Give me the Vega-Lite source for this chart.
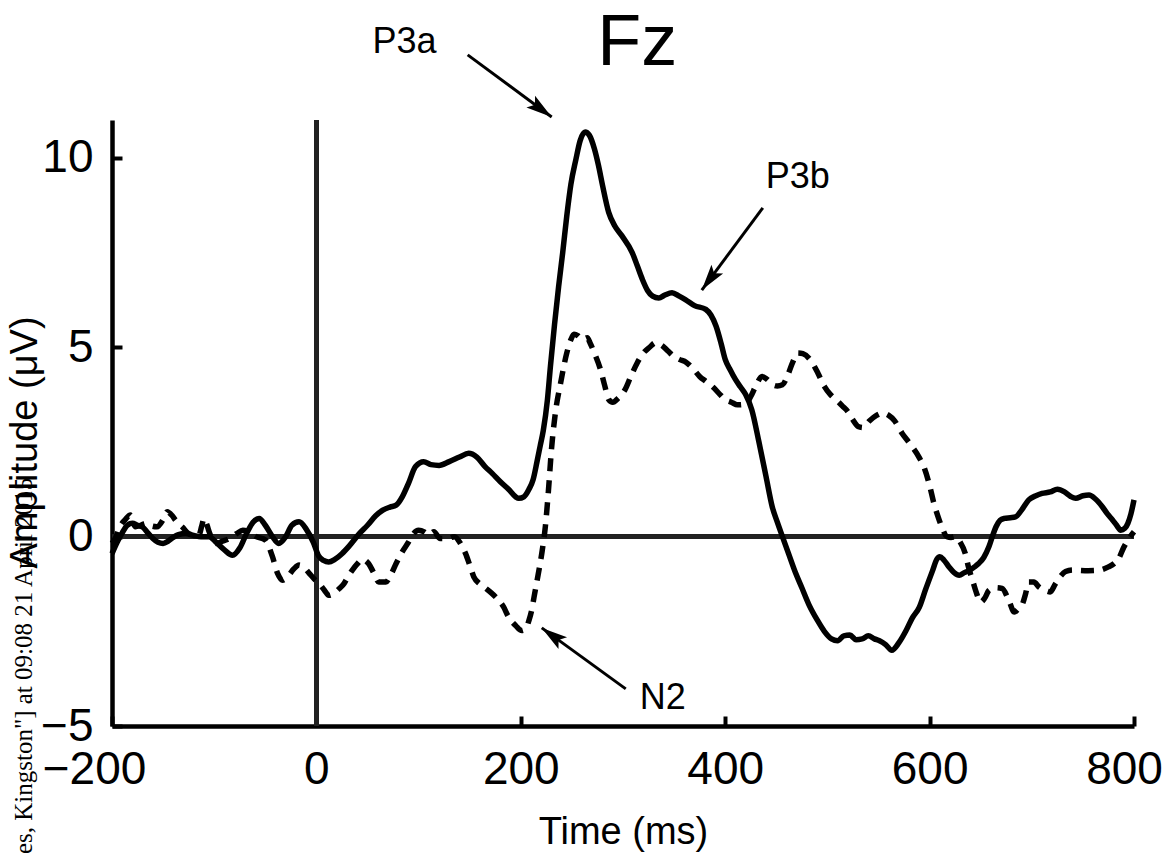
{
  "$schema": "https://vega.github.io/schema/vega-lite/v6.json",
  "width": 1022,
  "height": 606,
  "autosize": {"type": "none"},
  "padding": {"left": 112, "top": 120, "right": 36, "bottom": 128},
  "background": "white",
  "config": {
    "view": {"stroke": null},
    "font": "Liberation Sans",
    "axis": {
      "grid": false,
      "domainColor": "black",
      "domainWidth": 4.5,
      "tickColor": "black",
      "tickWidth": 4,
      "tickSize": -10,
      "labelFont": "Liberation Sans",
      "labelFontSize": 46,
      "labelColor": "black",
      "labelFlush": false,
      "labelOverlap": false,
      "titleFont": "Liberation Sans",
      "titleFontSize": 38,
      "titleFontWeight": "normal",
      "titleColor": "black"
    }
  },
  "datasets": {
    "solid": [
      {"t": -200, "v": -0.45}, {"t": -195, "v": -0.15}, {"t": -190, "v": 0.1}, {"t": -185, "v": 0.3},
      {"t": -180, "v": 0.35}, {"t": -175, "v": 0.3}, {"t": -170, "v": 0.25}, {"t": -165, "v": 0.1},
      {"t": -160, "v": -0.05}, {"t": -155, "v": -0.15}, {"t": -150, "v": -0.18}, {"t": -145, "v": -0.12},
      {"t": -140, "v": -0.02}, {"t": -135, "v": 0.05}, {"t": -128, "v": 0.08}, {"t": -120, "v": 0.03},
      {"t": -113, "v": 0.0}, {"t": -105, "v": 0.0}, {"t": -98, "v": -0.15}, {"t": -90, "v": -0.35},
      {"t": -82, "v": -0.49}, {"t": -75, "v": -0.3}, {"t": -68, "v": 0.1}, {"t": -62, "v": 0.38},
      {"t": -56, "v": 0.48}, {"t": -50, "v": 0.3}, {"t": -43, "v": 0.0}, {"t": -37, "v": -0.18},
      {"t": -30, "v": 0.0}, {"t": -24, "v": 0.3}, {"t": -17, "v": 0.39}, {"t": -10, "v": 0.2},
      {"t": -3, "v": -0.15}, {"t": 2, "v": -0.5}, {"t": 7, "v": -0.63}, {"t": 12, "v": -0.67},
      {"t": 18, "v": -0.6}, {"t": 25, "v": -0.45}, {"t": 32, "v": -0.25}, {"t": 42, "v": 0.08},
      {"t": 50, "v": 0.3}, {"t": 58, "v": 0.55}, {"t": 65, "v": 0.7}, {"t": 72, "v": 0.78},
      {"t": 78, "v": 0.83}, {"t": 84, "v": 1.05}, {"t": 90, "v": 1.4}, {"t": 97, "v": 1.85},
      {"t": 105, "v": 1.98}, {"t": 112, "v": 1.9}, {"t": 120, "v": 1.88}, {"t": 130, "v": 1.98},
      {"t": 140, "v": 2.1}, {"t": 149, "v": 2.2}, {"t": 157, "v": 2.1}, {"t": 165, "v": 1.85},
      {"t": 172, "v": 1.67}, {"t": 180, "v": 1.45}, {"t": 188, "v": 1.25}, {"t": 195, "v": 1.05},
      {"t": 198, "v": 1.01}, {"t": 203, "v": 1.05}, {"t": 208, "v": 1.25}, {"t": 212, "v": 1.5},
      {"t": 216, "v": 2.0}, {"t": 219, "v": 2.4}, {"t": 222, "v": 2.8}, {"t": 226, "v": 3.6},
      {"t": 229, "v": 4.5}, {"t": 233, "v": 5.6}, {"t": 237, "v": 6.6}, {"t": 241, "v": 7.5},
      {"t": 245, "v": 8.47}, {"t": 249, "v": 9.3}, {"t": 254, "v": 9.97}, {"t": 258, "v": 10.45},
      {"t": 263, "v": 10.68}, {"t": 267, "v": 10.6}, {"t": 272, "v": 10.24}, {"t": 276, "v": 9.8},
      {"t": 280, "v": 9.27}, {"t": 286, "v": 8.56}, {"t": 292, "v": 8.2}, {"t": 299, "v": 7.94},
      {"t": 309, "v": 7.5}, {"t": 314, "v": 7.15}, {"t": 319, "v": 6.79}, {"t": 324, "v": 6.5},
      {"t": 329, "v": 6.35}, {"t": 335, "v": 6.3}, {"t": 341, "v": 6.38}, {"t": 348, "v": 6.44},
      {"t": 355, "v": 6.35}, {"t": 361, "v": 6.26}, {"t": 370, "v": 6.1}, {"t": 381, "v": 6.0},
      {"t": 386, "v": 5.85}, {"t": 391, "v": 5.56}, {"t": 396, "v": 5.1}, {"t": 400, "v": 4.68},
      {"t": 405, "v": 4.4}, {"t": 410, "v": 4.15}, {"t": 415, "v": 3.95}, {"t": 420, "v": 3.75},
      {"t": 426, "v": 3.35}, {"t": 433, "v": 2.5}, {"t": 440, "v": 1.58}, {"t": 446, "v": 0.79},
      {"t": 451, "v": 0.38}, {"t": 456, "v": 0.0}, {"t": 462, "v": -0.45}, {"t": 469, "v": -0.97},
      {"t": 475, "v": -1.35}, {"t": 482, "v": -1.8}, {"t": 490, "v": -2.2}, {"t": 497, "v": -2.5},
      {"t": 504, "v": -2.7}, {"t": 510, "v": -2.75}, {"t": 516, "v": -2.62}, {"t": 522, "v": -2.6},
      {"t": 528, "v": -2.72}, {"t": 534, "v": -2.7}, {"t": 540, "v": -2.62}, {"t": 546, "v": -2.7},
      {"t": 551, "v": -2.75}, {"t": 557, "v": -2.85}, {"t": 563, "v": -3.0}, {"t": 570, "v": -2.8},
      {"t": 577, "v": -2.48}, {"t": 583, "v": -2.15}, {"t": 590, "v": -1.86}, {"t": 596, "v": -1.4},
      {"t": 603, "v": -0.89}, {"t": 607, "v": -0.6}, {"t": 610, "v": -0.53}, {"t": 614, "v": -0.62},
      {"t": 619, "v": -0.8}, {"t": 624, "v": -0.95}, {"t": 629, "v": -1.02}, {"t": 634, "v": -0.95},
      {"t": 639, "v": -0.89}, {"t": 644, "v": -0.8}, {"t": 648, "v": -0.71}, {"t": 653, "v": -0.55},
      {"t": 658, "v": -0.27}, {"t": 662, "v": 0.05}, {"t": 665, "v": 0.26}, {"t": 669, "v": 0.43},
      {"t": 673, "v": 0.48}, {"t": 679, "v": 0.5}, {"t": 684, "v": 0.52}, {"t": 690, "v": 0.7},
      {"t": 697, "v": 0.97}, {"t": 704, "v": 1.08}, {"t": 710, "v": 1.14}, {"t": 718, "v": 1.18},
      {"t": 725, "v": 1.25}, {"t": 732, "v": 1.18}, {"t": 738, "v": 1.06}, {"t": 743, "v": 1.01},
      {"t": 750, "v": 1.08}, {"t": 756, "v": 1.1}, {"t": 762, "v": 1.0}, {"t": 769, "v": 0.79},
      {"t": 774, "v": 0.6}, {"t": 779, "v": 0.44}, {"t": 783, "v": 0.3}, {"t": 787, "v": 0.17},
      {"t": 791, "v": 0.22}, {"t": 794, "v": 0.35}, {"t": 797, "v": 0.6}, {"t": 800, "v": 0.97}
    ],
    "dashed": [
      {"t": -200, "v": -0.18}, {"t": -196, "v": 0.0}, {"t": -193, "v": 0.22}, {"t": -187, "v": 0.45},
      {"t": -182, "v": 0.57}, {"t": -177, "v": 0.26}, {"t": -172, "v": 0.3}, {"t": -167, "v": 0.35},
      {"t": -161, "v": 0.28}, {"t": -156, "v": 0.26}, {"t": -150, "v": 0.45}, {"t": -146, "v": 0.66},
      {"t": -141, "v": 0.55}, {"t": -138, "v": 0.44}, {"t": -131, "v": 0.25}, {"t": -125, "v": 0.08},
      {"t": -119, "v": 0.04}, {"t": -115, "v": 0.04}, {"t": -112, "v": 0.3}, {"t": -110, "v": 0.48},
      {"t": -107, "v": 0.3}, {"t": -105, "v": 0.13}, {"t": -98, "v": -0.18}, {"t": -92, "v": -0.12},
      {"t": -85, "v": -0.05}, {"t": -78, "v": 0.08}, {"t": -72, "v": 0.17}, {"t": -66, "v": 0.12},
      {"t": -59, "v": 0.0}, {"t": -50, "v": -0.09}, {"t": -43, "v": -0.53}, {"t": -38, "v": -0.97},
      {"t": -33, "v": -1.15}, {"t": -28, "v": -1.05}, {"t": -22, "v": -0.85}, {"t": -17, "v": -0.75},
      {"t": -12, "v": -0.82}, {"t": -7, "v": -0.97}, {"t": -2, "v": -1.12}, {"t": 3, "v": -1.25},
      {"t": 8, "v": -1.42}, {"t": 12, "v": -1.55}, {"t": 17, "v": -1.5}, {"t": 22, "v": -1.38},
      {"t": 27, "v": -1.24}, {"t": 31, "v": -1.05}, {"t": 35, "v": -0.89}, {"t": 40, "v": -0.72},
      {"t": 45, "v": -0.6}, {"t": 51, "v": -0.71}, {"t": 56, "v": -0.95}, {"t": 61, "v": -1.2},
      {"t": 68, "v": -1.2}, {"t": 73, "v": -1.0}, {"t": 78, "v": -0.71}, {"t": 84, "v": -0.4},
      {"t": 90, "v": -0.15}, {"t": 95, "v": 0.08}, {"t": 100, "v": 0.17}, {"t": 106, "v": 0.12},
      {"t": 110, "v": 0.05}, {"t": 115, "v": 0.13}, {"t": 121, "v": -0.05}, {"t": 128, "v": -0.05},
      {"t": 135, "v": 0.0}, {"t": 141, "v": -0.18}, {"t": 146, "v": -0.45}, {"t": 150, "v": -0.75},
      {"t": 154, "v": -1.06}, {"t": 160, "v": -1.25}, {"t": 165, "v": -1.35}, {"t": 170, "v": -1.46},
      {"t": 177, "v": -1.64}, {"t": 183, "v": -1.85}, {"t": 188, "v": -2.12}, {"t": 195, "v": -2.35},
      {"t": 201, "v": -2.48}, {"t": 205, "v": -2.42}, {"t": 208, "v": -2.21}, {"t": 211, "v": -1.9},
      {"t": 213, "v": -1.59}, {"t": 217, "v": -1.0}, {"t": 221, "v": -0.36}, {"t": 224, "v": 0.26},
      {"t": 227, "v": 1.2}, {"t": 230, "v": 2.3}, {"t": 234, "v": 3.3}, {"t": 239, "v": 4.06},
      {"t": 245, "v": 4.85}, {"t": 249, "v": 5.2}, {"t": 252, "v": 5.34}, {"t": 256, "v": 5.3},
      {"t": 260, "v": 5.2}, {"t": 265, "v": 5.25}, {"t": 268, "v": 5.1}, {"t": 272, "v": 4.85},
      {"t": 278, "v": 4.41}, {"t": 282, "v": 4.0}, {"t": 286, "v": 3.62}, {"t": 290, "v": 3.55},
      {"t": 295, "v": 3.65}, {"t": 302, "v": 3.88}, {"t": 308, "v": 4.25}, {"t": 314, "v": 4.59},
      {"t": 320, "v": 4.85}, {"t": 326, "v": 5.0}, {"t": 332, "v": 5.12}, {"t": 338, "v": 5.05},
      {"t": 344, "v": 4.9}, {"t": 350, "v": 4.75}, {"t": 355, "v": 4.68}, {"t": 362, "v": 4.6},
      {"t": 368, "v": 4.45}, {"t": 375, "v": 4.23}, {"t": 381, "v": 4.1}, {"t": 388, "v": 3.95},
      {"t": 395, "v": 3.75}, {"t": 400, "v": 3.62}, {"t": 406, "v": 3.55}, {"t": 412, "v": 3.48},
      {"t": 420, "v": 3.5}, {"t": 425, "v": 3.7}, {"t": 430, "v": 3.98}, {"t": 436, "v": 4.23},
      {"t": 441, "v": 4.15}, {"t": 446, "v": 4.02}, {"t": 451, "v": 3.98}, {"t": 456, "v": 4.01},
      {"t": 461, "v": 4.25}, {"t": 466, "v": 4.6}, {"t": 471, "v": 4.85}, {"t": 476, "v": 4.83},
      {"t": 485, "v": 4.6}, {"t": 491, "v": 4.3}, {"t": 497, "v": 3.97}, {"t": 503, "v": 3.75},
      {"t": 509, "v": 3.6}, {"t": 515, "v": 3.44}, {"t": 520, "v": 3.3}, {"t": 525, "v": 3.08},
      {"t": 530, "v": 2.91}, {"t": 535, "v": 2.88}, {"t": 541, "v": 3.05}, {"t": 548, "v": 3.2},
      {"t": 554, "v": 3.26}, {"t": 560, "v": 3.2}, {"t": 566, "v": 3.05}, {"t": 573, "v": 2.73},
      {"t": 580, "v": 2.48}, {"t": 590, "v": 2.08}, {"t": 595, "v": 1.8}, {"t": 600, "v": 1.35},
      {"t": 604, "v": 0.9}, {"t": 608, "v": 0.55}, {"t": 612, "v": 0.25}, {"t": 617, "v": 0.0},
      {"t": 621, "v": -0.02}, {"t": 625, "v": 0.0}, {"t": 630, "v": -0.15}, {"t": 635, "v": -0.45},
      {"t": 638, "v": -0.8}, {"t": 642, "v": -1.15}, {"t": 646, "v": -1.5}, {"t": 650, "v": -1.73},
      {"t": 654, "v": -1.62}, {"t": 658, "v": -1.42}, {"t": 664, "v": -1.35}, {"t": 671, "v": -1.37},
      {"t": 677, "v": -1.65}, {"t": 683, "v": -1.99}, {"t": 687, "v": -1.9}, {"t": 691, "v": -1.77},
      {"t": 694, "v": -1.5}, {"t": 697, "v": -1.2}, {"t": 702, "v": -1.2}, {"t": 707, "v": -1.33},
      {"t": 713, "v": -1.42}, {"t": 718, "v": -1.46}, {"t": 723, "v": -1.25}, {"t": 728, "v": -1.05},
      {"t": 733, "v": -0.92}, {"t": 740, "v": -0.88}, {"t": 746, "v": -0.89}, {"t": 755, "v": -0.9},
      {"t": 765, "v": -0.89}, {"t": 775, "v": -0.8}, {"t": 781, "v": -0.7}, {"t": 785, "v": -0.58},
      {"t": 790, "v": -0.28}, {"t": 795, "v": -0.05}, {"t": 800, "v": 0.13}
    ],
    "arrows": [
      {"label": "P3a", "t": 148.0, "v": 12.72, "t2": 230.2, "v2": 11.08},
      {"label": "P3b", "t": 436.8, "v": 8.68, "t2": 377.1, "v2": 6.51},
      {"label": "N2", "t": 302.7, "v": -4.02, "t2": 220.5, "v2": -2.41}
    ],
    "labels": [
      {"label": "P3a", "t": 86.3, "v": 13.06},
      {"label": "P3b", "t": 471.1, "v": 9.5},
      {"label": "N2", "t": 338.9, "v": -4.26}
    ],
    "heading": [
      {"txt": "Fz", "t": 313.9, "v": 12.44}
    ],
    "watermark": [
      {"txt": "es, Kingston\"] at 09:08 21 April 2015", "t": -278.3, "v": -8.38}
    ]
  },
  "layer": [
    {
      "data": {"name": "solid"},
      "mark": {"type": "rule", "color": "#222222", "strokeWidth": 4},
      "encoding": {
        "y": {"datum": 0, "type": "quantitative", "scale": {"domain": [-5, 11], "nice": false, "zero": false},
          "axis": {"title": "Amplitude  (μV)", "values": [-5, 0, 5, 10], "labelPadding": 29, "titleX": -76, "titleY": 322, "titleBaseline": "alphabetic", "titleAlign": "center"}}
      }
    },
    {
      "data": {"name": "solid"},
      "mark": {"type": "rule", "color": "#222222", "strokeWidth": 4},
      "encoding": {
        "x": {"datum": 0, "type": "quantitative", "scale": {"domain": [-200, 800], "nice": false, "zero": false},
          "axis": {"title": "Time (ms)", "values": [-200, 0, 200, 400, 600, 800], "labelPadding": 31,
            "labelOffset": {"condition": [{"test": "datum.value === -200", "value": -18}, {"test": "datum.value === 800", "value": -10}], "value": 0},
            "titleX": 511, "titleY": 117, "titleBaseline": "alphabetic", "titleAlign": "center"}}
      }
    },
    {
      "data": {"name": "dashed"},
      "mark": {"type": "line", "color": "black", "strokeWidth": 5.5, "strokeDash": [13, 9], "strokeCap": "butt", "interpolate": "monotone"},
      "encoding": {
        "x": {"field": "t", "type": "quantitative", "scale": {"domain": [-200, 800], "nice": false, "zero": false}},
        "y": {"field": "v", "type": "quantitative", "scale": {"domain": [-5, 11], "nice": false, "zero": false}}
      }
    },
    {
      "data": {"name": "solid"},
      "mark": {"type": "line", "color": "black", "strokeWidth": 5.5, "strokeJoin": "round", "interpolate": "monotone"},
      "encoding": {
        "x": {"field": "t", "type": "quantitative", "scale": {"domain": [-200, 800], "nice": false, "zero": false}},
        "y": {"field": "v", "type": "quantitative", "scale": {"domain": [-5, 11], "nice": false, "zero": false}}
      }
    },
    {
      "data": {"name": "arrows"},
      "mark": {"type": "rule", "color": "black", "strokeWidth": 3},
      "encoding": {
        "x": {"field": "t", "type": "quantitative", "scale": {"domain": [-200, 800], "nice": false, "zero": false}},
        "y": {"field": "v", "type": "quantitative", "scale": {"domain": [-5, 11], "nice": false, "zero": false}},
        "x2": {"field": "t2"},
        "y2": {"field": "v2"}
      }
    },
    {
      "data": {"name": "arrows"},
      "transform": [{"filter": "datum.label === 'P3a'"}],
      "mark": {"type": "point", "shape": "M0,0L-0.28,1L0,0.8L0.28,1Z", "size": 2700, "filled": true, "color": "black", "opacity": 1, "strokeWidth": 0, "angle": 126.4},
      "encoding": {
        "x": {"field": "t2", "type": "quantitative", "scale": {"domain": [-200, 800], "nice": false, "zero": false}},
        "y": {"field": "v2", "type": "quantitative", "scale": {"domain": [-5, 11], "nice": false, "zero": false}}
      }
    },
    {
      "data": {"name": "arrows"},
      "transform": [{"filter": "datum.label === 'P3b'"}],
      "mark": {"type": "point", "shape": "M0,0L-0.28,1L0,0.8L0.28,1Z", "size": 2700, "filled": true, "color": "black", "opacity": 1, "strokeWidth": 0, "angle": 216.6},
      "encoding": {
        "x": {"field": "t2", "type": "quantitative", "scale": {"domain": [-200, 800], "nice": false, "zero": false}},
        "y": {"field": "v2", "type": "quantitative", "scale": {"domain": [-5, 11], "nice": false, "zero": false}}
      }
    },
    {
      "data": {"name": "arrows"},
      "transform": [{"filter": "datum.label === 'N2'"}],
      "mark": {"type": "point", "shape": "M0,0L-0.28,1L0,0.8L0.28,1Z", "size": 2700, "filled": true, "color": "black", "opacity": 1, "strokeWidth": 0, "angle": 306},
      "encoding": {
        "x": {"field": "t2", "type": "quantitative", "scale": {"domain": [-200, 800], "nice": false, "zero": false}},
        "y": {"field": "v2", "type": "quantitative", "scale": {"domain": [-5, 11], "nice": false, "zero": false}}
      }
    },
    {
      "data": {"name": "labels"},
      "mark": {"type": "text", "font": "Liberation Sans", "fontSize": 36, "color": "black", "align": "center", "baseline": "middle"},
      "encoding": {
        "x": {"field": "t", "type": "quantitative", "scale": {"domain": [-200, 800], "nice": false, "zero": false}},
        "y": {"field": "v", "type": "quantitative", "scale": {"domain": [-5, 11], "nice": false, "zero": false}},
        "text": {"field": "label"}
      }
    },
    {
      "data": {"name": "heading"},
      "mark": {"type": "text", "font": "Liberation Sans", "fontSize": 72, "color": "black", "align": "center", "baseline": "alphabetic"},
      "encoding": {
        "x": {"field": "t", "type": "quantitative", "scale": {"domain": [-200, 800], "nice": false, "zero": false}},
        "y": {"field": "v", "type": "quantitative", "scale": {"domain": [-5, 11], "nice": false, "zero": false}},
        "text": {"field": "txt"}
      }
    },
    {
      "data": {"name": "watermark"},
      "mark": {"type": "text", "font": "Liberation Serif", "fontSize": 25, "color": "black", "align": "left", "baseline": "alphabetic", "angle": 270},
      "encoding": {
        "x": {"field": "t", "type": "quantitative", "scale": {"domain": [-200, 800], "nice": false, "zero": false}},
        "y": {"field": "v", "type": "quantitative", "scale": {"domain": [-5, 11], "nice": false, "zero": false}},
        "text": {"field": "txt"}
      }
    }
  ]
}
